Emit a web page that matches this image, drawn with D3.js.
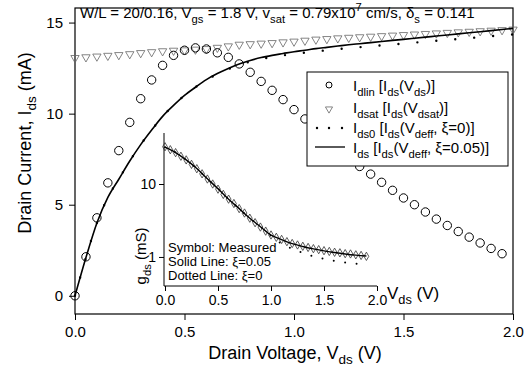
<!DOCTYPE html>
<html>
<head>
<meta charset="utf-8">
<script src="https://cdn.jsdelivr.net/npm/d3@7"></script>
<style>
  body { margin: 0; background: #fff; }
  svg { font-family: "Liberation Sans", Arial, Helvetica, sans-serif; }
</style>
</head>
<body>
<svg id="chart" width="525" height="375"></svg>
<script>
// ---- data ----
// main plot: drain current (mA) vs drain voltage (V)
const vdlin = d3.range(0, 1.951, 0.05);
const idlin = [0, 2.14, 4.28, 6.2, 7.97, 9.52, 10.82, 11.85, 12.65, 13.2, 13.48, 13.61, 13.55, 13.34, 13.09, 12.73,
  12.27, 11.77, 11.28, 10.77, 10.22, 9.71, 9.2, 8.7, 8.15, 7.6, 7.1, 6.68, 6.23, 5.79, 5.37, 5.0, 4.6, 4.21,
  3.86, 3.53, 3.22, 2.9, 2.6, 2.31];
const vdsat = d3.range(0, 2.001, 0.05);
const idsat = [13.06, 13.1, 13.14, 13.18, 13.22, 13.27, 13.33, 13.38, 13.43, 13.46, 13.48, 13.52, 13.55, 13.62,
  13.7, 13.79, 13.82, 13.85, 13.88, 13.92, 13.96, 14.01, 14.07, 14.1, 14.14, 14.17, 14.2, 14.23, 14.26, 14.29,
  14.32, 14.35, 14.38, 14.41, 14.44, 14.47, 14.5, 14.53, 14.56, 14.59, 14.62];
const vcurve = d3.range(0, 2.001, 0.05);
const ids = [0, 2.1, 4.0, 5.4, 6.4, 7.4, 8.3, 9.1, 9.85, 10.45, 11.0, 11.45, 11.87, 12.2, 12.48, 12.73, 12.92,
  13.08, 13.2, 13.3, 13.4, 13.48, 13.57, 13.64, 13.71, 13.78, 13.84, 13.9, 13.96, 14.02, 14.08, 14.14, 14.2,
  14.26, 14.32, 14.38, 14.44, 14.5, 14.56, 14.62, 14.68];
const ids0 = [0, 2.1, 4.0, 5.4, 6.4, 7.4, 8.3, 9.1, 9.85, 10.45, 11.0, 11.45, 11.85, 12.17, 12.44, 12.68, 12.86,
  13.0, 13.11, 13.2, 13.28, 13.35, 13.42, 13.48, 13.54, 13.6, 13.65, 13.7, 13.75, 13.8, 13.85, 13.9, 13.95,
  14.0, 14.05, 14.1, 14.15, 14.2, 14.25, 14.3, 14.35];

// inset: output conductance gds (mS) vs Vds (V)
const vgds = d3.range(0, 1.901, 0.05);
const gdsMeas = [32.4, 29.5, 26.9, 24.0, 21.4, 18.6, 16.2, 13.8, 11.7, 10.0, 8.5, 7.2, 6.2, 5.4, 4.6, 4.0, 3.4,
  2.95, 2.57, 2.26, 2.0, 1.86, 1.74, 1.62, 1.53, 1.46, 1.40, 1.35, 1.30, 1.26, 1.22, 1.19, 1.16, 1.14, 1.11,
  1.10, 1.07, 1.05, 1.02];
const vgfit = d3.range(0, 1.901, 0.1);
const gdsXi05 = [32, 27, 21.4, 16.3, 11.8, 8.6, 6.2, 4.6, 3.4, 2.6, 2.0, 1.73, 1.52, 1.39, 1.29, 1.21, 1.15,
  1.10, 1.06, 1.03];
const gdsXi0 = [32, 27, 21.4, 16.3, 11.8, 8.6, 6.2, 4.6, 3.4, 2.6, 1.95, 1.52, 1.3, 1.14, 1.02, 0.94, 0.88,
  0.84, 0.81, 0.79];

const xTicks = [0, 0.5, 1.0, 1.5, 2.0];
const yTicks = [0, 5, 10, 15];
const gTicks = [1, 10];

// ---- drawing ----
const svg = d3.select("#chart");
const font = 15;

// text with sub/superscripts: parts = [[text, kind], ...]
function rich(sel, parts, size) {
  let shift = 0;
  parts.forEach(([t, kind]) => {
    const target = kind === "sub" ? size * 0.3 : kind === "sup" ? -size * 0.45 : 0;
    sel.append("tspan")
      .attr("dy", target - shift)
      .attr("font-size", kind ? size * 0.75 : size)
      .text(t);
    shift = target;
  });
  return sel;
}

const x = d3.scaleLinear().domain([0, 2]).range([75, 513]);
const y = d3.scaleLinear().domain([-1, 15.8]).range([314, 8]);

// frame
svg.append("rect")
  .attr("x", x(0)).attr("y", y(15.8))
  .attr("width", x(2) - x(0)).attr("height", y(-1) - y(15.8))
  .attr("fill", "none").attr("stroke", "#000").attr("stroke-width", 1.2);

// bottom axis
const gx = svg.append("g").attr("transform", `translate(0,${y(-1)})`);
gx.call(d3.axisBottom(x).tickValues(d3.range(0, 2.001, 0.1)).tickSize(3).tickFormat(""));
gx.call(d3.axisBottom(x).tickValues(xTicks).tickSize(6).tickPadding(6).tickFormat(d3.format(".1f")));
gx.selectAll("path").remove();
gx.selectAll("text").attr("font-size", font).attr("font-family", null);

// left axis
const gy = svg.append("g").attr("transform", `translate(${x(0)},0)`);
gy.call(d3.axisLeft(y).tickValues(d3.range(-1, 15.01, 1)).tickSize(3).tickFormat(""));
gy.call(d3.axisLeft(y).tickValues(yTicks).tickSize(6).tickPadding(6).tickFormat(d3.format("d")));
gy.selectAll("path").remove();
gy.selectAll("text").attr("font-size", font).attr("font-family", null);

// axis titles
rich(svg.append("text").attr("x", 295).attr("y", 359).attr("text-anchor", "middle"),
  [["Drain Voltage, V"], ["ds", "sub"], [" (V)"]], 18);
rich(svg.append("text").attr("transform", "translate(31,143) rotate(-90)").attr("text-anchor", "middle"),
  [["Drain Current, I"], ["ds", "sub"], [" (mA)"]], 18);

// header text
rich(svg.append("text").attr("x", 80).attr("y", 18),
  [["W/L = 20/0.16, V"], ["gs", "sub"], [" = 1.8 V, v"], ["sat", "sub"], [" = 0.79x10"], ["7", "sup"],
   [" cm/s, \u03b4"], ["s", "sub"], [" = 0.141"]], 15);

const plot = svg.append("g");

// Idsat triangles
const tri = d3.symbol().type(d3.symbolTriangle).size(30);
plot.selectAll(".sat").data(vdsat.map((v, i) => [v, idsat[i]])).join("path")
  .attr("d", tri)
  .attr("transform", d => `translate(${x(d[0])},${y(d[1])}) rotate(180)`)
  .attr("fill", "none").attr("stroke", "#666").attr("stroke-width", 0.8);

// Idlin circles
plot.selectAll(".lin").data(vdlin.map((v, i) => [v, idlin[i]])).join("circle")
  .attr("cx", d => x(d[0])).attr("cy", d => y(d[1])).attr("r", 4.2)
  .attr("fill", "none").attr("stroke", "#000").attr("stroke-width", 1);

// Ids0 dotted, Ids solid
const line = d3.line().curve(d3.curveMonotoneX).x(d => x(d[0])).y(d => y(d[1]));
plot.append("path").datum(vcurve.map((v, i) => [v, ids0[i]]))
  .attr("d", line).attr("fill", "none").attr("stroke", "#000")
  .attr("stroke-width", 2.4).attr("stroke-linecap", "round").attr("stroke-dasharray", "0,19");
plot.append("path").datum(vcurve.map((v, i) => [v, ids[i]]))
  .attr("d", line).attr("fill", "none").attr("stroke", "#000").attr("stroke-width", 1.6);

// legend
const lg = svg.append("g");
lg.append("rect").attr("x", 307).attr("y", 72).attr("width", 201).attr("height", 94)
  .attr("fill", "#fff").attr("stroke", "#000").attr("stroke-width", 1);
const rows = [
  { y: 86, parts: [["I"], ["dlin", "sub"], [" [I"], ["ds", "sub"], ["(V"], ["ds", "sub"], [")]"]] },
  { y: 108, parts: [["I"], ["dsat", "sub"], [" [I"], ["ds", "sub"], ["(V"], ["dsat", "sub"], [")]"]] },
  { y: 128, parts: [["I"], ["ds0", "sub"], [" [I"], ["ds", "sub"], ["(V"], ["deff", "sub"], [", \u03be=0)]"]] },
  { y: 148, parts: [["I"], ["ds", "sub"], [" [I"], ["ds", "sub"], ["(V"], ["deff", "sub"], [", \u03be=0.05)]"]] }
];
rows.forEach(r => rich(lg.append("text").attr("x", 353).attr("y", r.y + 5), r.parts, 15));
lg.append("circle").attr("cx", 329).attr("cy", 85).attr("r", 3)
  .attr("fill", "none").attr("stroke", "#000");
lg.append("path").attr("d", d3.symbol().type(d3.symbolTriangle).size(22))
  .attr("transform", "translate(329,109) rotate(180)")
  .attr("fill", "none").attr("stroke", "#666").attr("stroke-width", 0.8);
[317, 329, 342].forEach(cx => lg.append("circle").attr("cx", cx).attr("cy", 128).attr("r", 1.2).attr("fill", "#000"));
lg.append("line").attr("x1", 315).attr("x2", 345).attr("y1", 147).attr("y2", 147)
  .attr("stroke", "#000").attr("stroke-width", 1.3);

// ---- inset ----
const xi = d3.scaleLinear().domain([0, 2]).range([165, 377]);
const yi = d3.scaleLog().domain([0.4, 50]).range([286, 133]);
const inset = svg.append("g");

const ix = inset.append("g").attr("transform", `translate(0,${yi(0.4)})`);
ix.call(d3.axisBottom(xi).tickValues(d3.range(0, 2.001, 0.1)).tickSize(3).tickFormat(""));
ix.call(d3.axisBottom(xi).tickValues(xTicks).tickSize(5).tickPadding(4).tickFormat(d3.format(".1f")));
ix.selectAll("text").attr("font-size", 14).attr("font-family", null);
ix.select("path").attr("d", `M${xi(0) - 1},0H${xi(2)}`);

const minorG = [0.4, 0.5, 0.6, 0.7, 0.8, 0.9, 2, 3, 4, 5, 6, 7, 8, 9, 20, 30, 40, 50];
const iy = inset.append("g").attr("transform", `translate(${xi(0) - 1},0)`);
iy.call(d3.axisLeft(yi).tickValues(minorG).tickSize(3).tickFormat(""));
iy.call(d3.axisLeft(yi).tickValues(gTicks).tickSize(5).tickPadding(3).tickFormat(d3.format("d")));
iy.selectAll("text").attr("font-size", 14).attr("font-family", null);
iy.selectAll("path").attr("d", `M0,${yi(0.4)}V${yi(50)}`);

rich(inset.append("text").attr("x", 387).attr("y", 299), [["V"], ["ds", "sub"], [" (V)"]], 17);
rich(inset.append("text").attr("transform", "translate(146,256) rotate(-90)").attr("text-anchor", "middle"),
  [["g"], ["ds", "sub"], [" (mS)"]], 15);

const gline = d3.line().curve(d3.curveMonotoneX).x(d => xi(d[0])).y(d => yi(d[1]));
inset.append("path").datum(vgfit.map((v, i) => [v, gdsXi0[i]]))
  .attr("d", gline).attr("fill", "none").attr("stroke", "#000")
  .attr("stroke-width", 2).attr("stroke-linecap", "round").attr("stroke-dasharray", "0,11.5");
const dia = d3.symbol().type(d3.symbolDiamond).size(20);
inset.selectAll(".meas").data(vgds.map((v, i) => [v, gdsMeas[i]])).join("path")
  .attr("d", dia)
  .attr("transform", d => `translate(${xi(d[0])},${yi(d[1])})`)
  .attr("fill", "none").attr("stroke", "#333").attr("stroke-width", 0.8);
inset.append("path").datum(vgfit.map((v, i) => [v, gdsXi05[i]]))
  .attr("d", gline).attr("fill", "none").attr("stroke", "#000").attr("stroke-width", 1.4);

const notes = ["Symbol: Measured", "Solid Line: \u03be=0.05", "Dotted Line: \u03be=0"];
inset.selectAll(".note").data(notes).join("text")
  .attr("x", 168).attr("y", (d, i) => 252 + i * 14)
  .attr("font-size", 13).text(d => d);
</script>
</body>
</html>
